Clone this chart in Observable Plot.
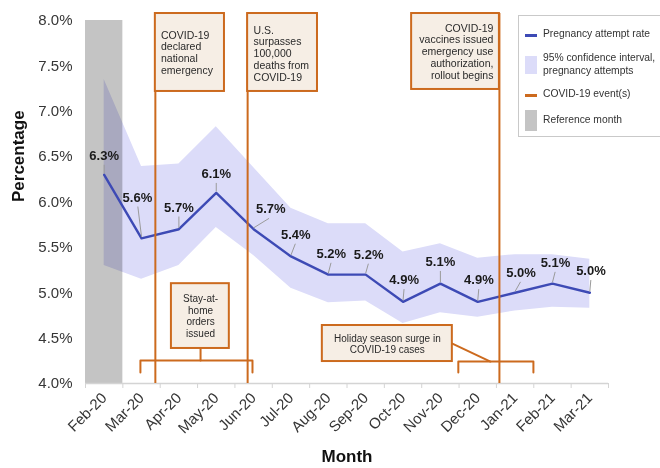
<!DOCTYPE html>
<html>
<head>
<meta charset="utf-8">
<script src="https://cdn.jsdelivr.net/npm/d3@7"></script>
<script src="https://cdn.jsdelivr.net/npm/@observablehq/plot@0.6"></script>
<style>
  body { margin: 0; background: #fff; font-family: "Liberation Sans", Arial, sans-serif; }
  #wrap { position: relative; width: 660px; height: 468px; overflow: hidden; }
  #legend { position: absolute; left: 518px; top: 15px; width: 145px; height: 122px; border: 1.5px solid #c9c9c9; box-sizing: border-box; background: #fff; font-size: 10.3px; color: #333; }
  #legend .sw { position: absolute; }
  #legend .tx { position: absolute; left: 24px; line-height: 12.5px; white-space: nowrap; }
</style>
</head>
<body>
<div id="wrap">
  <div id="chart"></div>
  <div id="legend"></div>
</div>
<script>
// ---- data ----
const months = ["Feb-20","Mar-20","Apr-20","May-20","Jun-20","Jul-20","Aug-20","Sep-20","Oct-20","Nov-20","Dec-20","Jan-21","Feb-21","Mar-21"];
const rate    = [6.3, 5.6, 5.7, 6.1, 5.7, 5.4, 5.2, 5.2, 4.9, 5.1, 4.9, 5.0, 5.1, 5.0];
const ciLower = [5.30, 5.15, 5.30, 5.72, 5.41, 5.05, 4.89, 4.91, 4.66, 4.78, 4.73, 4.80, 4.84, 4.83];
const ciUpper = [7.35, 6.39, 6.42, 6.83, 6.38, 5.93, 5.76, 5.76, 5.45, 5.54, 5.38, 5.42, 5.42, 5.37];
const yTicks  = [4.0, 4.5, 5.0, 5.5, 6.0, 6.5, 7.0, 7.5, 8.0];
const referenceMonth = ["Feb-20"];

// COVID-19 event annotations
const eventLabels = [
  "COVID-19\ndeclared\nnational\nemergency",
  "U.S.\nsurpasses\n100,000\ndeaths from\nCOVID-19",
  "COVID-19\nvaccines issued\nemergency use\nauthorization,\nrollout begins"
];
const periodLabels = ["Stay-at-\nhome\norders\nissued", "Holiday season surge in\nCOVID-19 cases"];

// ---- styling / annotation layout (axis units: month index, percent) ----
const C = { line: "#3d4ab5", ci: "#dcdcf9", ref: "#c4c4c4", orange: "#cc6a1e", beige: "#f6eee5", leader: "#9a9a9a", text: "#2a2a2a" };
const labelDx = [0, -0.11, 0, 0, 0.46, 0.13, 0.08, 0.08, 0.03, 0, 0.03, 0.16, 0.08, 0.03];
const labelDy = [0.21, 0.45, 0.24, 0.21, 0.22, 0.24, 0.23, 0.22, 0.24, 0.24, 0.24, 0.22, 0.23, 0.24];

const pts = months.map((m, i) => ({ i, m, x: i + 0.5, v: rate[i], lo: ciLower[i], hi: ciUpper[i],
  lx: i + 0.5 + labelDx[i], ly: rate[i] + labelDy[i] }));

const events = [
  { label: eventLabels[0], at: 1.87, x1: 1.87, x2: 3.72, y1: 7.218, y2: 8.077, tx: 2.02, ty: 7.647, anchor: "start" },
  { label: eventLabels[1], at: 4.34, x1: 4.34, x2: 6.21, y1: 7.218, y2: 8.077, tx: 4.50, ty: 7.636, anchor: "start" },
  { label: eventLabels[2], at: 11.08, x1: 8.73, x2: 11.08, y1: 7.240, y2: 8.077, tx: 10.92, ty: 7.658, anchor: "end" }
];
const periods = [
  { label: periodLabels[0], x1: 2.30, x2: 3.85, y1: 4.386, y2: 5.10, tx: 3.08, ty: 4.745 },
  { label: periodLabels[1], x1: 6.34, x2: 9.82, y1: 4.242, y2: 4.639, tx: 8.08, ty: 4.44 }
];
const bracketPts = [
  {g: "a", x: 1.47, y: 4.121}, {g: "a", x: 1.47, y: 4.253}, {g: "a", x: 4.47, y: 4.253}, {g: "a", x: 4.47, y: 4.121},
  {g: "b", x: 3.08, y: 4.253}, {g: "b", x: 3.08, y: 4.386},
  {g: "c", x: 9.98, y: 4.121}, {g: "c", x: 9.98, y: 4.242}, {g: "c", x: 11.99, y: 4.242}, {g: "c", x: 11.99, y: 4.121},
  {g: "d", x: 9.82, y: 4.44}, {g: "d", x: 10.84, y: 4.242}
];

const refIdx = months.indexOf(referenceMonth[0]);

const chart = Plot.plot({
  width: 660, height: 468,
  marginTop: 20, marginRight: 52, marginBottom: 85, marginLeft: 85,
  style: { fontFamily: "'Liberation Sans', Arial, sans-serif", fontSize: "15px", color: "#363636", background: "#fff", overflow: "visible" },
  x: { domain: [0, months.length] },
  y: { domain: [4, 8] },
  marks: [
    // reference month band
    Plot.rect([refIdx], { x1: d => d, x2: d => d + 1, y1: 4, y2: 8, fill: C.ref }),
    // confidence interval
    Plot.areaY(pts, { x: "x", y1: "lo", y2: "hi", fill: C.ci, mixBlendMode: "multiply" }),
    // axes
    Plot.ruleY([4], { stroke: "#d4d4d4", strokeWidth: 1.5 }),
    Plot.axisX({ ticks: d3.range(0, months.length + 1), tickFormat: () => "", tickSize: 5, stroke: "#d4d4d4" }),
    Plot.axisX({ ticks: pts.map(d => d.x), tickFormat: d => months[Math.round(d - 0.5)], tickSize: 0, tickPadding: 12, tickRotate: -45, fontSize: 15, label: null }),
    Plot.axisY({ ticks: yTicks, tickFormat: d => d.toFixed(1) + "%", tickSize: 0, tickPadding: 13, fontSize: 15, label: null }),
    Plot.text(["Month"], { frameAnchor: "bottom", dy: 78, fontWeight: "bold", fontSize: 17, fill: "#111" }),
    Plot.text(["Percentage"], { frameAnchor: "left", dx: -67, rotate: -90, fontWeight: "bold", fontSize: 17, fill: "#111" }),
    // rate line
    Plot.line(pts, { x: "x", y: "v", stroke: C.line, strokeWidth: 2.4 }),
    // event lines + boxes
    Plot.ruleX(events, { x: "at", y1: 4, y2: 8.077, stroke: C.orange, strokeWidth: 2 }),
    Plot.rect(events, { x1: "x1", x2: "x2", y1: "y1", y2: "y2", fill: C.beige, stroke: C.orange, strokeWidth: 2 }),
    Plot.text(events.filter(e => e.anchor === "start"), { x: "tx", y: "ty", text: "label", textAnchor: "start", fontSize: 10.5, lineHeight: 1.13, fill: C.text }),
    Plot.text(events.filter(e => e.anchor === "end"), { x: "tx", y: "ty", text: "label", textAnchor: "end", fontSize: 10.5, lineHeight: 1.13, fill: C.text }),
    // period brackets
    Plot.line(bracketPts, { x: "x", y: "y", z: "g", stroke: C.orange, strokeWidth: 2, strokeLinejoin: "round", strokeLinecap: "round" }),
    Plot.rect(periods, { x1: "x1", x2: "x2", y1: "y1", y2: "y2", fill: C.beige, stroke: C.orange, strokeWidth: 2 }),
    Plot.text(periods, { x: "tx", y: "ty", text: "label", fontSize: 10, lineHeight: 1.15, fill: C.text }),
    // value labels with leaders
    Plot.link(pts, { x1: "x", y1: d => d.v + 0.015, x2: d => d.x + labelDx[d.i] * 0.9, y2: d => d.ly - 0.1, stroke: C.leader, strokeWidth: 1 }),
    Plot.text(pts, { x: "lx", y: "ly", text: d => d.v.toFixed(1) + "%", fontWeight: "bold", fontSize: 13, fill: "#1a1a1a" })
  ]
});
document.getElementById("chart").append(chart);

// legend (HTML overlay)
const legendItems = [
  { type: "line", color: C.line, text: "Pregnancy attempt rate", top: 19, ty: 12 },
  { type: "box", color: C.ci, text: "95% confidence interval,<br>pregnancy attempts", top: 40, h: 18, ty: 36 },
  { type: "line", color: C.orange, text: "COVID-19 event(s)", top: 79, ty: 72 },
  { type: "box", color: C.ref, text: "Reference month", top: 94, h: 21, ty: 98 }
];
const lg = document.getElementById("legend");
for (const it of legendItems) {
  const sw = document.createElement("div");
  sw.className = "sw";
  sw.style.left = "6px";
  sw.style.width = "12px";
  sw.style.background = it.color;
  if (it.type === "line") { sw.style.top = (it.top - 1) + "px"; sw.style.height = "2.5px"; }
  else { sw.style.top = it.top + "px"; sw.style.height = it.h + "px"; }
  lg.appendChild(sw);
  const t = document.createElement("div");
  t.className = "tx";
  t.style.top = it.ty + "px";
  t.innerHTML = it.text;
  lg.appendChild(t);
}
</script>
</body>
</html>
